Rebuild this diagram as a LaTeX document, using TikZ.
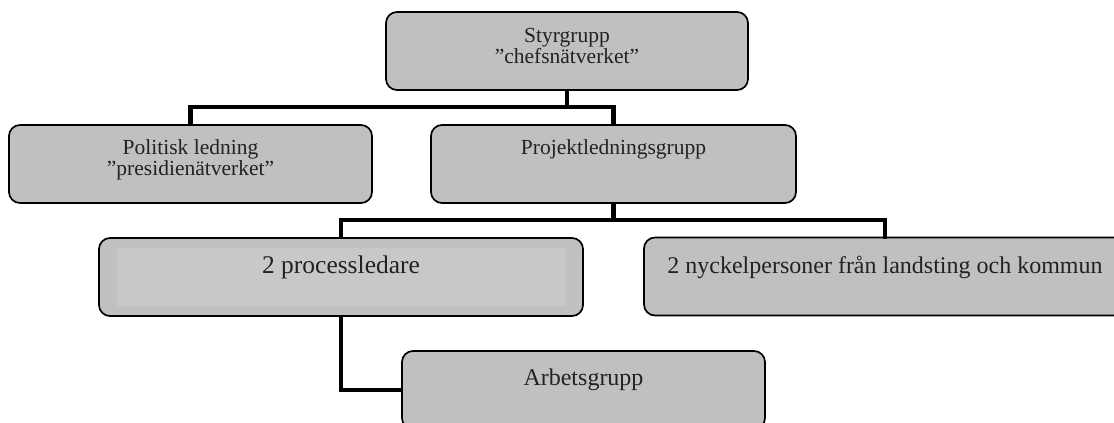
\documentclass[tikz,border=0pt]{standalone}
\usepackage{fontspec}
\setmainfont{Liberation Serif}
\definecolor{boxfill}{RGB}{192,192,192}
\definecolor{innerfill}{RGB}{200,200,202}
\definecolor{txtcol}{RGB}{34,34,34}
\tikzset{
  orgbox/.style={draw=black, line width=1.7pt, fill=boxfill, rounded corners=11pt, inner sep=0pt, minimum height=78pt},
  conn/.style={draw=black, line width=4.6pt, line join=miter, line cap=rect},
  txt/.style={anchor=base, inner sep=0pt, text=txtcol, font=\fontsize{21.5}{21.5}\selectfont},
  txtbig/.style={txt, font=\fontsize{24}{24}\selectfont},
  txtlarge/.style={txt, font=\fontsize{25.5}{25.5}\selectfont},
}
\begin{document}
\begin{tikzpicture}[x=1pt, y=-1pt]
\useasboundingbox (0,0) rectangle (1114,423);
\clip (0,0) rectangle (1114,423);
% boxes
\node[orgbox, minimum width=362pt] (sty) at (567,51) {};
\node[orgbox, minimum width=363pt] (pol) at (190.5,164) {};
\node[orgbox, minimum width=365pt] (proj) at (613.5,164) {};
\node[orgbox, minimum width=484pt] (proc) at (341,277) {};
\node[orgbox, minimum width=482pt] (nyck) at (885,276.5) {};
\node[orgbox, minimum width=363pt] (arb) at (583.5,390) {};
% inner panel of processledare
\fill[innerfill] (117,248) rectangle (566,306);
% bus coordinates
\coordinate (bus1) at (0,107);
\coordinate (bus2) at (0,220);
% connectors
\draw[conn] (sty.south) -- (sty.south |- bus1);
\draw[conn] (pol.north) -- (pol.north |- bus1) -- (proj.north |- bus1) -- (proj.north);
\draw[conn] (proj.south) -- (proj.south |- bus2);
\draw[conn] (proc.north) -- (proc.north |- bus2) -- (nyck.north |- bus2) -- (nyck.north);
\draw[conn] (proc.south) |- (arb.west);
% texts
\node[txt] (t1a) at (567,42) {Styrgrupp};
\node[txt] (t1b) at (567,63.5) {”chefsnätverket”};
\node[txt] (t2a) at (190.5,154) {Politisk ledning};
\node[txt] (t2b) at (190.5,175.5) {”presidienätverket”};
\node[txt] (t3) at (613.5,154.5) {Projektledningsgrupp};
\node[txtlarge] (t4) at (341,273) {2 processledare};
\node[txtbig] (t5) at (885,273) {2 nyckelpersoner från landsting och kommun};
\node[txtbig] (t6) at (583.5,385) {Arbetsgrupp};
\end{tikzpicture}
\end{document}
